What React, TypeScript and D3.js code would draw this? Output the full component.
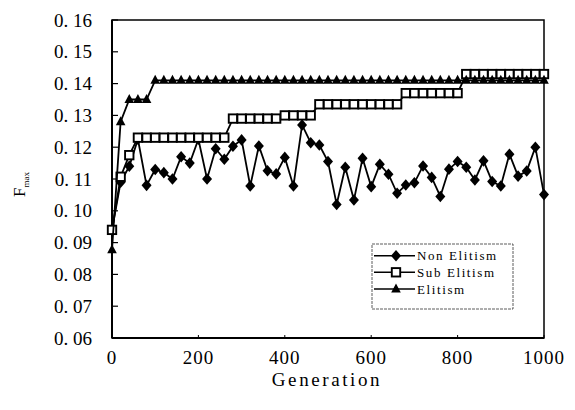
import React from "react";
import * as d3 from "d3";

const generations = [0, 20, 40, 60, 80, 100, 120, 140, 160, 180, 200, 220, 240, 260, 280, 300, 320, 340, 360, 380, 400, 420, 440, 460, 480, 500, 520, 540, 560, 580, 600, 620, 640, 660, 680, 700, 720, 740, 760, 780, 800, 820, 840, 860, 880, 900, 920, 940, 960, 980, 1000];

const nonElitism = [0.094, 0.109, 0.114, 0.1225, 0.108, 0.113, 0.112, 0.110, 0.117, 0.115, 0.1225, 0.110, 0.1195, 0.1162, 0.1203, 0.1223, 0.1078, 0.1204, 0.1126, 0.1116, 0.1168, 0.1078, 0.127, 0.1214, 0.1207, 0.1155, 0.102, 0.1137, 0.1034, 0.1165, 0.1076, 0.1146, 0.1115, 0.1055, 0.1081, 0.1088, 0.1141, 0.1105, 0.1045, 0.1131, 0.1155, 0.1137, 0.1097, 0.1157, 0.1092, 0.1078, 0.1178, 0.1109, 0.1125, 0.120, 0.1051];

const subElitism = [0.094, 0.1107, 0.1175,
  0.123, 0.123, 0.123, 0.123, 0.123, 0.123, 0.123, 0.123, 0.123, 0.123, 0.123,
  0.129, 0.129, 0.129, 0.129, 0.129, 0.129,
  0.130, 0.130, 0.130, 0.130,
  0.1335, 0.1335, 0.1335, 0.1335, 0.1335, 0.1335, 0.1335, 0.1335, 0.1335, 0.1335,
  0.137, 0.137, 0.137, 0.137, 0.137, 0.137, 0.137,
  0.143, 0.143, 0.143, 0.143, 0.143, 0.143, 0.143, 0.143, 0.143, 0.143];

const elitism = [0.0877, 0.128, 0.135, 0.135, 0.135,
  0.141, 0.141, 0.141, 0.141, 0.141, 0.141, 0.141, 0.141, 0.141, 0.141,
  0.141, 0.141, 0.141, 0.141, 0.141, 0.141, 0.141, 0.141, 0.141, 0.141,
  0.141, 0.141, 0.141, 0.141, 0.141, 0.141, 0.141, 0.141, 0.141, 0.141,
  0.141, 0.141, 0.141, 0.141, 0.141, 0.141, 0.141, 0.141, 0.141, 0.141,
  0.141, 0.141, 0.141, 0.141, 0.141, 0.141];

const yTicks = [0.06, 0.07, 0.08, 0.09, 0.10, 0.11, 0.12, 0.13, 0.14, 0.15, 0.16];
const xTicks = [0, 200, 400, 600, 800, 1000];
const seriesNames = ["Non Elitism", "Sub Elitism", "Elitism"];

const L = 112, R = 544, T = 20, B = 338;

export default function App() {
  const x = d3.scaleLinear().domain([0, 1000]).range([L, R]);
  const y = d3.scaleLinear().domain([0.06, 0.16]).range([B, T]);
  const line = (vals: number[]) =>
    d3.line<number>().x((_, i) => x(generations[i])).y((v) => y(v))(vals) || "";

  const diamond = (cx: number, cy: number, k: number) => (
    <path key={k} d={`M${cx},${cy - 5.8}L${cx + 5},${cy}L${cx},${cy + 5.8}L${cx - 5},${cy}Z`} fill="#000" />
  );
  const square = (cx: number, cy: number, k: number) => (
    <rect key={k} x={cx - 4.2} y={cy - 4.2} width={8.4} height={8.4} fill="#fff" stroke="#000" strokeWidth={1.9} />
  );
  const tri = (cx: number, cy: number, k: number) => (
    <path key={k} d={`M${cx},${cy - 5.6}L${cx + 4.8},${cy + 3.4}L${cx - 4.8},${cy + 3.4}Z`} fill="#000" />
  );

  const font = "'Liberation Serif', 'Times New Roman', serif";
  const legendRows = [255.7, 272.3, 289];
  const markers = [diamond, square, tri];

  return (
    <svg width={575} height={410} style={{ position: "absolute", left: 0, top: 0, background: "#fff" }}>
      <rect x={0} y={0} width={575} height={410} fill="#fff" />
      <rect x={L} y={T} width={R - L} height={B - T} fill="none" stroke="#000" strokeWidth={1.5} />
      <line x1={L} y1={T} x2={L} y2={B} stroke="#000" strokeWidth={2} />
      <line x1={L} y1={B} x2={R} y2={B} stroke="#000" strokeWidth={2} />
      {yTicks.map((t) => (
        <g key={t}>
          <line x1={L} x2={L + 6} y1={y(t)} y2={y(t)} stroke="#000" strokeWidth={1.2} />
          <text x={92} y={y(t) + 6.5} textAnchor="end" fontFamily={font} fontSize={19} fill="#000">
            {t.toFixed(2).replace(".", ". ")}
          </text>
        </g>
      ))}
      {xTicks.map((t) => (
        <g key={t}>
          <line x1={x(t)} x2={x(t)} y1={B} y2={B - 3} stroke="#000" strokeWidth={1} />
          <text x={x(t)} y={364} textAnchor="middle" fontFamily={font} fontSize={19} letterSpacing={1} fill="#000">
            {t}
          </text>
        </g>
      ))}
      <text x={327} y={386} textAnchor="middle" fontFamily={font} fontSize={19} letterSpacing={2.6} fill="#000">
        Generation
      </text>
      <text transform="translate(25,197) rotate(-90)" fontFamily={font} fontSize={17} fill="#000">
        F<tspan fontSize={9} dy={4}>max</tspan>
      </text>

      <path d={line(nonElitism)} fill="none" stroke="#000" strokeWidth={1.8} />
      {nonElitism.map((v, i) => diamond(x(generations[i]), y(v), i))}
      <path d={line(subElitism)} fill="none" stroke="#000" strokeWidth={1.8} />
      {subElitism.map((v, i) => square(x(generations[i]), y(v), i))}
      <path d={line(elitism)} fill="none" stroke="#000" strokeWidth={1.8} />
      {elitism.map((v, i) => tri(x(generations[i]), y(v), i))}

      <rect x={372} y={244} width={141} height={65} fill="#fff" stroke="#333" strokeWidth={0.8} strokeDasharray="3,1" />
      {seriesNames.map((n, i) => (
        <g key={n}>
          <line x1={374} x2={415} y1={legendRows[i]} y2={legendRows[i]} stroke="#000" strokeWidth={1.4} />
          {markers[i](396, legendRows[i], i)}
          <text x={417} y={legendRows[i] + 4.5} fontFamily={font} fontSize={13} letterSpacing={1.6} fill="#000">
            {n}
          </text>
        </g>
      ))}
    </svg>
  );
}
